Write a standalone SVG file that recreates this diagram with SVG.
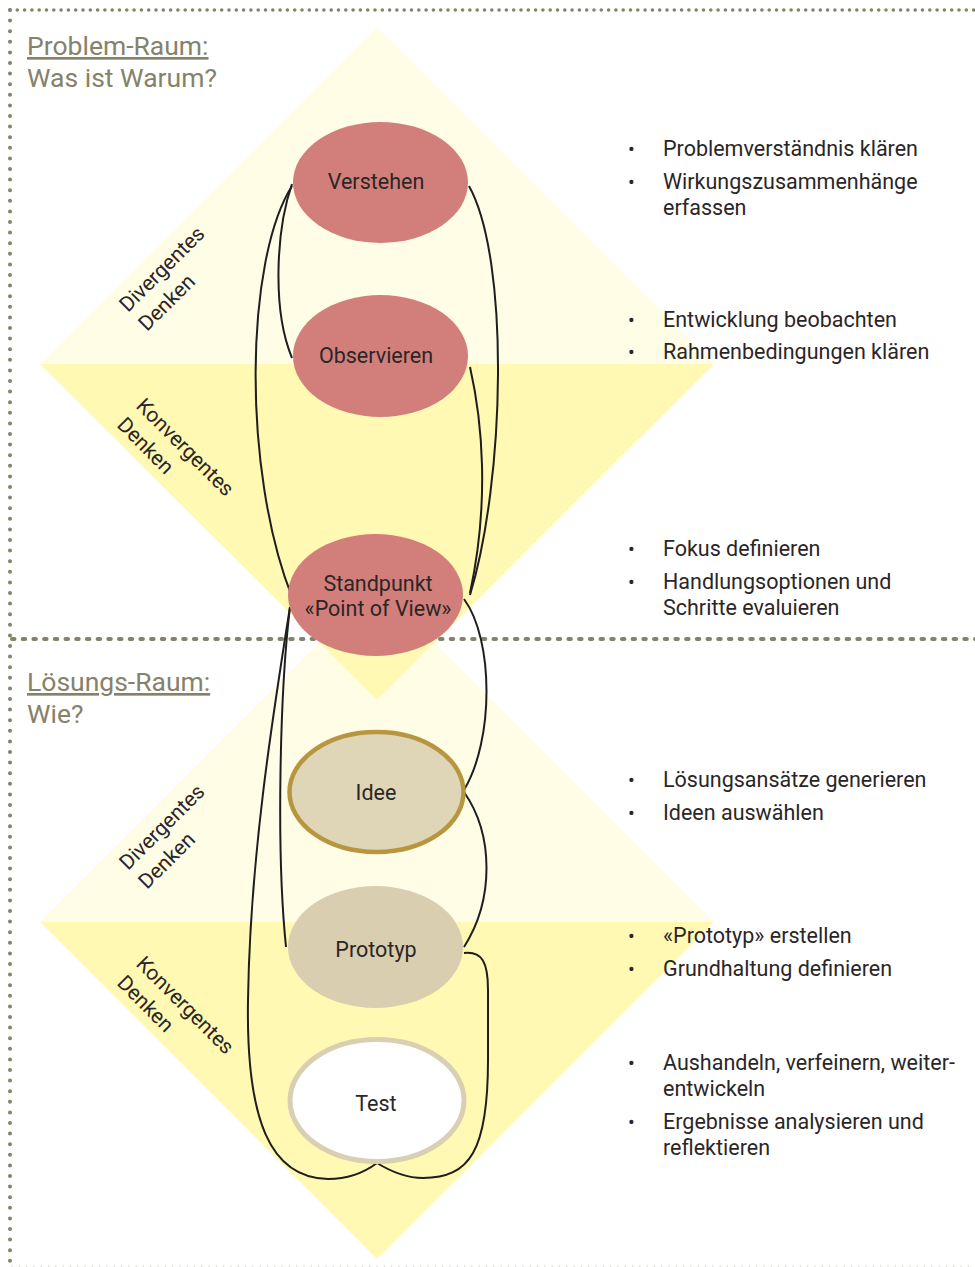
<svg xmlns="http://www.w3.org/2000/svg" width="975" height="1267" viewBox="0 0 975 1267">
<style>
.lt{fill:#FFFDE6}
.st{fill:#FFF9B4}
.dot{fill:none;stroke:#86826A;stroke-linecap:round}
.hd{font-family:Roboto,"Liberation Sans",sans-serif;font-size:26.5px;fill:#86826A}
.lbl{font-family:Roboto,"Liberation Sans",sans-serif;font-size:21.5px;fill:#2B2626;text-anchor:middle}
.rot{font-family:Roboto,"Liberation Sans",sans-serif;font-size:21px;fill:#2B2626}
.bl{font-family:Roboto,"Liberation Sans",sans-serif;font-size:21.5px;fill:#2B2626}
.bu{font-family:Roboto,"Liberation Sans",sans-serif;font-size:20px;fill:#2B2626}
.con{fill:none;stroke:#1E1E1E;stroke-width:2}
</style>
<rect width="975" height="1267" fill="#FFFFFF"/>
<g id="diamonds">
<polygon class="lt" points="377,585 714,922 40,922"/>
<polygon class="st" points="40,922 714,922 377,1259"/>
<polygon class="lt" points="377,27 714,364 40,364"/>
<polygon class="st" points="40,364 714,364 377,700"/>
</g>
<g id="borders">
<line class="dot" x1="10" y1="10" x2="975" y2="10" stroke-width="3.6" stroke-dasharray="0 7.3"/>
<line class="dot" x1="10" y1="10" x2="10" y2="1267" stroke-width="4" stroke-dasharray="0 10.6"/>
<line class="dot" x1="12" y1="639" x2="975" y2="639" stroke-width="4" stroke-dasharray="2.5 8.2"/>
<line class="dot" x1="12" y1="1266" x2="975" y2="1266" stroke-width="1.5" stroke-dasharray="0 7.3" opacity="0.35"/>
</g>
<g id="headers">
<text class="hd" x="27" y="55" text-decoration="underline">Problem-Raum:</text>
<text class="hd" x="27" y="87">Was ist Warum?</text>
<text class="hd" x="27" y="691" text-decoration="underline">Lösungs-Raum:</text>
<text class="hd" x="27" y="723">Wie?</text>
</g>
<g id="side-labels">
<g transform="translate(128,313) rotate(-45)"><text class="rot" x="0" y="0">Divergentes</text><text class="rot" x="0" y="27">Denken</text></g>
<g transform="translate(135,407) rotate(45)"><text class="rot" x="0" y="0">Konvergentes</text><text class="rot" x="0" y="27">Denken</text></g>
<g transform="translate(128,871) rotate(-45)"><text class="rot" x="0" y="0">Divergentes</text><text class="rot" x="0" y="27">Denken</text></g>
<g transform="translate(135,965) rotate(45)"><text class="rot" x="0" y="0">Konvergentes</text><text class="rot" x="0" y="27">Denken</text></g>
</g>
<g id="connectors">
<path class="con" d="M292,184 C276,230 272,310 292,358"/>
<path class="con" d="M292,186 C245,260 242,470 292,597"/>
<path class="con" d="M469,186 C510,260 505,480 470,595"/>
<path class="con" d="M470,367 C482,420 490,500 470,593"/>
<path class="con" d="M464,599 C494,640 494,740 464,790"/>
<path class="con" d="M464,792 C494,835 494,900 464,947"/>
<path class="con" d="M464,953 C482,951 488,962 488,990 L488,1060 C488,1150 470,1178 423,1178 C405,1178 390,1171 377,1163"/>
<path class="con" d="M290,607 C272,720 250,860 248,1000 C246,1120 270,1178 328,1179 C350,1179 365,1172 377,1163"/>
<path class="con" d="M290,607 C280,690 276,850 286,947"/>
</g>
<g id="verstehen">
<ellipse cx="380.5" cy="182.5" rx="87.5" ry="60.5" fill="#D27F7B"/>
<text class="lbl" x="376" y="189">Verstehen</text>
</g>
<g id="observieren">
<ellipse cx="380.5" cy="356" rx="87.5" ry="61" fill="#D27F7B"/>
<text class="lbl" x="376" y="363">Observieren</text>
</g>
<g id="standpunkt">
<ellipse cx="375.5" cy="595" rx="87.5" ry="61" fill="#D27F7B"/>
<text class="lbl" x="378" y="591">Standpunkt</text>
<text class="lbl" x="378" y="616">«Point of View»</text>
</g>
<g id="idee">
<ellipse cx="376.5" cy="792" rx="87" ry="60" fill="#DFD6B8" stroke="#B8963F" stroke-width="4.5"/>
<text class="lbl" x="376" y="800">Idee</text>
</g>
<g id="prototyp">
<ellipse cx="375.5" cy="947" rx="87.5" ry="61" fill="#D9CEB0"/>
<text class="lbl" x="376" y="957">Prototyp</text>
</g>
<g id="test">
<ellipse cx="377" cy="1100.5" rx="87" ry="61" fill="#FFFFFF" stroke="#D9CFB2" stroke-width="5"/>
<text class="lbl" x="376" y="1111">Test</text>
</g>
<g id="bullets">
<text class="bu" x="628" y="156">•</text><text class="bl" x="663" y="156">Problemverständnis klären</text>
<text class="bu" x="628" y="189">•</text><text class="bl" x="663" y="189">Wirkungszusammenhänge</text>
<text class="bl" x="663" y="215">erfassen</text>
<text class="bu" x="628" y="327">•</text><text class="bl" x="663" y="327">Entwicklung beobachten</text>
<text class="bu" x="628" y="359">•</text><text class="bl" x="663" y="359">Rahmenbedingungen klären</text>
<text class="bu" x="628" y="556">•</text><text class="bl" x="663" y="556">Fokus definieren</text>
<text class="bu" x="628" y="589">•</text><text class="bl" x="663" y="589">Handlungsoptionen und</text>
<text class="bl" x="663" y="615">Schritte evaluieren</text>
<text class="bu" x="628" y="787">•</text><text class="bl" x="663" y="787">Lösungsansätze generieren</text>
<text class="bu" x="628" y="820">•</text><text class="bl" x="663" y="820">Ideen auswählen</text>
<text class="bu" x="628" y="943">•</text><text class="bl" x="663" y="943">«Prototyp» erstellen</text>
<text class="bu" x="628" y="976">•</text><text class="bl" x="663" y="976">Grundhaltung definieren</text>
<text class="bu" x="628" y="1070">•</text><text class="bl" x="663" y="1070">Aushandeln, verfeinern, weiter-</text>
<text class="bl" x="663" y="1096">entwickeln</text>
<text class="bu" x="628" y="1129">•</text><text class="bl" x="663" y="1129">Ergebnisse analysieren und</text>
<text class="bl" x="663" y="1155">reflektieren</text>
</g>
</svg>
